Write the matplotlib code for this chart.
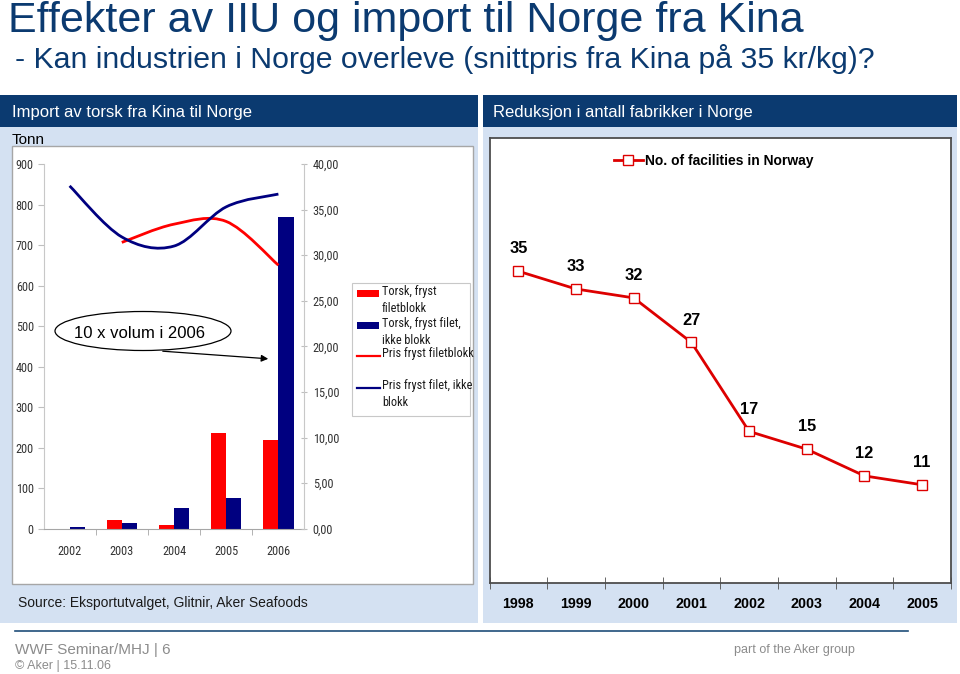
import matplotlib
matplotlib.use('Agg')
import matplotlib.pyplot as plt
import numpy as np
from matplotlib import font_manager
from matplotlib.path import Path
from matplotlib.patches import PathPatch, Rectangle, Ellipse

plt.rcParams['font.family'] = ['Liberation Sans', 'DejaVu Sans']

# narrow face for the small chart texts, if one is installed
_names = {f.name for f in font_manager.fontManager.ttflist}
if 'Liberation Sans Narrow' in _names:
    NARROW, SMALL, LEG = ['Liberation Sans Narrow', 'DejaVu Sans'], 9.2, 9.0
elif 'Roboto Condensed' in _names:
    NARROW, SMALL, LEG = ['Roboto Condensed', 'DejaVu Sans'], 8.8, 8.8
else:
    NARROW, SMALL, LEG = ['Liberation Sans', 'DejaVu Sans'], 8.0, 7.8

# --- data: import of cod from China (left panel) ---
imp_years = ['2002', '2003', '2004', '2005', '2006']
vol_blokk = [0, 21, 9, 237, 218]          # tonn, Torsk, fryst filetblokk
vol_filet = [5, 15, 50, 75, 770]          # tonn, Torsk, fryst filet, ikke blokk
pris_blokk = [np.nan, 31.4, 33.4, 33.7, 28.9]   # kr/kg
pris_filet = [37.6, 32.0, 31.0, 35.3, 36.7]     # kr/kg
tonn_ticks = list(range(0, 1000, 100))
pris_ticks = [0, 5, 10, 15, 20, 25, 30, 35, 40]
legend_labels = ['Torsk, fryst\nfiletblokk', 'Torsk, fryst filet,\nikke blokk',
                 'Pris fryst filetblokk', 'Pris fryst filet, ikke\nblokk']

# --- data: number of facilities (right panel) ---
fac_years = ['1998', '1999', '2000', '2001', '2002', '2003', '2004', '2005']
fac_count = [35, 33, 32, 27, 17, 15, 12, 11]

W, H = 960, 674
RED = '#FF0000'
NAVY = '#000080'
HEAD = '#0B3A70'
LIGHT = '#D4E1F2'


def frect(x0, y0, x1, y1):
    return [x0 / W, 1 - y1 / H, (x1 - x0) / W, (y1 - y0) / H]


def smooth_path(xs, ys):
    pts = [(x, y) for x, y in zip(xs, ys) if not np.isnan(y)]
    verts, codes = [pts[0]], [Path.MOVETO]
    n = len(pts)
    for i in range(n - 1):
        p0, p1 = pts[max(i - 1, 0)], pts[i]
        p2, p3 = pts[i + 1], pts[min(i + 2, n - 1)]
        c1 = (p1[0] + (p2[0] - p0[0]) / 6, p1[1] + (p2[1] - p0[1]) / 6)
        c2 = (p2[0] - (p3[0] - p1[0]) / 6, p2[1] - (p3[1] - p1[1]) / 6)
        verts += [c1, c2, p2]
        codes += [Path.CURVE4] * 3
    return Path(verts, codes)


fig = plt.figure(figsize=(9.6, 6.74), dpi=100)

# background / slide furniture
bg = fig.add_axes([0, 0, 1, 1], zorder=0)
bg.set_xlim(0, W)
bg.set_ylim(H, 0)
bg.axis('off')
bg.add_patch(Rectangle((0, 95), 478, 32, color=HEAD, lw=0))
bg.add_patch(Rectangle((483, 95), 474, 32, color=HEAD, lw=0))
bg.add_patch(Rectangle((0, 127), 478, 496, color=LIGHT, lw=0))
bg.add_patch(Rectangle((483, 127), 474, 496, color=LIGHT, lw=0))
bg.add_patch(Rectangle((12, 146), 460.5, 438, fc='white', ec='#A6A6A6', lw=1))
bg.plot([15, 908], [631, 631], color='#1F4E79', lw=1.2)

bg.text(8, 32, 'Effekter av IIU og import til Norge fra Kina', fontsize=31,
        color=HEAD, va='baseline', ha='left')
bg.text(15, 67.5, '- Kan industrien i Norge overleve (snittpris fra Kina på 35 kr/kg)?',
        fontsize=21.8, color=HEAD, va='baseline', ha='left')
bg.text(12, 112, 'Import av torsk fra Kina til Norge', fontsize=12, color='white',
        va='center', ha='left')
bg.text(493, 112, 'Reduksjon i antall fabrikker i Norge', fontsize=12, color='white',
        va='center', ha='left')
bg.text(12, 143.5, 'Tonn', fontsize=11, color='black', va='baseline', ha='left')
bg.text(18, 603, 'Source: Eksportutvalget, Glitnir, Aker Seafoods', fontsize=10,
        color='#1A1A1A', va='center', ha='left')
bg.text(15, 650, 'WWF Seminar/MHJ | 6', fontsize=11, color='#8C8C8C', va='center')
bg.text(15, 666, '© Aker | 15.11.06', fontsize=9, color='#8C8C8C', va='center')
bg.text(734, 650, 'part of the Aker group', fontsize=9, color='#8C8C8C', va='center')

# --- left chart: bars (tonn) + smoothed price lines ---
ax1 = fig.add_axes(frect(43.5, 164, 304.5, 528.7), zorder=2)
ax1.patch.set_alpha(0)
x = np.arange(len(imp_years))
bw = 0.29
ax1.bar(x - bw / 2, vol_blokk, bw, color=RED, label=legend_labels[0])
ax1.bar(x + bw / 2, vol_filet, bw, color=NAVY, label=legend_labels[1])
ax1.set_xlim(-0.5, len(imp_years) - 0.5)
ax1.set_ylim(0, 900)
ax1.set_yticks(tonn_ticks)
ax1.set_xticks(x)
ax1.set_xticklabels(imp_years)
ax1.set_xticks(np.arange(0.5, len(imp_years) - 1, 1), minor=True)
ax1.tick_params(axis='x', which='major', length=0, pad=12, labelsize=SMALL,
                labelcolor='#333333')
ax1.tick_params(axis='x', which='minor', length=4, color='#A6A6A6', direction='out')
ax1.tick_params(axis='y', length=4, color='#BFBFBF', labelsize=SMALL,
                labelcolor='#333333', pad=3)
for lab in ax1.get_xticklabels() + ax1.get_yticklabels():
    lab.set_family(NARROW)
ax1.spines['top'].set_visible(False)
ax1.spines['right'].set_visible(False)
ax1.spines['left'].set_color('#C8C8C8')
ax1.spines['bottom'].set_color('#A6A6A6')

ax2 = ax1.twinx()
ax2.set_zorder(3)
ax2.patch.set_alpha(0)
ax2.set_ylim(0, 40)
ax2.set_yticks(pris_ticks)
ax2.set_yticklabels([f'{v:.2f}'.replace('.', ',') for v in pris_ticks])
ax2.tick_params(axis='y', length=4, direction='inout', color='#BFBFBF',
                labelsize=SMALL, labelcolor='#333333', pad=4)
for lab in ax2.get_yticklabels():
    lab.set_family(NARROW)
for s in ['top', 'left', 'bottom']:
    ax2.spines[s].set_visible(False)
ax2.spines['right'].set_color('#C8C8C8')
ax2.add_patch(PathPatch(smooth_path(x, pris_blokk), fill=False, ec=RED, lw=2))
ax2.add_patch(PathPatch(smooth_path(x, pris_filet), fill=False, ec=NAVY, lw=2))

# overlay: callout + legend of the left chart
ov = fig.add_axes([0, 0, 1, 1], zorder=5)
ov.set_xlim(0, W)
ov.set_ylim(H, 0)
ov.axis('off')
ov.add_patch(Ellipse((143, 331), 176, 39, fill=False, ec='black', lw=0.9))
ov.text(140, 334, '10 x volum i 2006', fontsize=12, ha='center', va='center')
ov.annotate('', xy=(271, 359), xytext=(160, 351),
            arrowprops=dict(arrowstyle='-|>', color='black', lw=0.9, mutation_scale=10))

ov.add_patch(Rectangle((352, 283), 118, 133, fc='white', ec='#C8C8C8', lw=0.8))
ov.add_patch(Rectangle((357, 290), 22, 7, color=RED, lw=0))
ov.add_patch(Rectangle((357, 322), 22, 7, color=NAVY, lw=0))
ov.plot([357, 380], [356, 356], color=RED, lw=1.6)
ov.plot([357, 380], [388, 388], color=NAVY, lw=1.6)
for lab, yc in zip(legend_labels, [292, 324, 354, 386]):
    ov.text(382, yc - 6.5, lab, fontsize=LEG, family=NARROW, va='top', ha='left',
            color='#1A1A1A', linespacing=1.35)

# --- right chart: number of facilities ---
ax3 = fig.add_axes(frect(489.5, 137.7, 951, 582.7), zorder=2)
xf = np.arange(len(fac_years))
ax3.plot(xf, fac_count, color='#DD0000', lw=2, marker='s', ms=7.5, mfc='white',
         mec='#DD0000', mew=1, label='No. of facilities in Norway')
for xi, v in zip(xf, fac_count):
    ax3.annotate(str(v), (xi, v), xytext=(0, 16), textcoords='offset points',
                 ha='center', va='center', fontsize=11.8, fontweight='bold')
ax3.set_xlim(-0.5, len(fac_years) - 0.5)
ax3.set_ylim(0, 50)
ax3.set_yticks([])
ax3.set_xticks(xf)
ax3.set_xticklabels(fac_years, fontweight='bold')
ax3.set_xticks(np.arange(-0.5, len(fac_years), 1), minor=True)
ax3.tick_params(axis='x', which='major', length=0, pad=10, labelsize=10.3)
ax3.tick_params(axis='x', which='minor', length=8, direction='inout', color='#4D4D4D')
for s in ax3.spines.values():
    s.set_color('#4D4D4D')
    s.set_linewidth(1.3)
ax3.legend(loc='center', bbox_to_anchor=(0.486, 0.948), frameon=False,
           handlelength=2.1, handletextpad=0.15,
           prop={'size': 10, 'weight': 'bold'})

fig.savefig('out.png', dpi=100)
